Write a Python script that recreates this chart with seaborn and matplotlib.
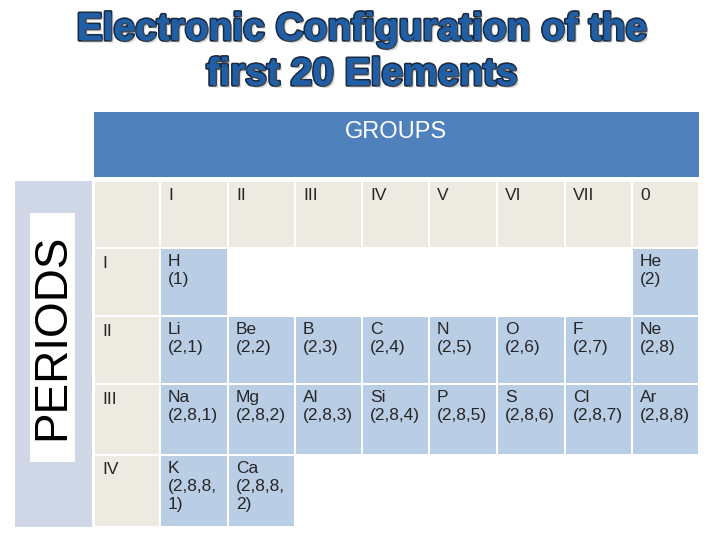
import matplotlib
matplotlib.use("Agg")
import matplotlib.pyplot as plt
import matplotlib.patheffects as pe
from matplotlib.patches import Rectangle
import seaborn as sns

sns.set_style("white")
plt.rcParams["font.family"] = ["Liberation Sans", "DejaVu Sans"]

TITLE = ["Electronic Configuration of the", "first 20 Elements"]
GROUPS = ["I", "II", "III", "IV", "V", "VI", "VII", "0"]
PERIODS = ["I", "II", "III", "IV"]
# (period index, group index, symbol, configuration)
ELEMENTS = [
    (0, 0, "H", "(1)"), (0, 7, "He", "(2)"),
    (1, 0, "Li", "(2,1)"), (1, 1, "Be", "(2,2)"), (1, 2, "B", "(2,3)"), (1, 3, "C", "(2,4)"),
    (1, 4, "N", "(2,5)"), (1, 5, "O", "(2,6)"), (1, 6, "F", "(2,7)"), (1, 7, "Ne", "(2,8)"),
    (2, 0, "Na", "(2,8,1)"), (2, 1, "Mg", "(2,8,2)"), (2, 2, "Al", "(2,8,3)"), (2, 3, "Si", "(2,8,4)"),
    (2, 4, "P", "(2,8,5)"), (2, 5, "S", "(2,8,6)"), (2, 6, "Cl", "(2,8,7)"), (2, 7, "Ar", "(2,8,8)"),
    (3, 0, "K", "(2,8,8,\n1)"), (3, 1, "Ca", "(2,8,8,\n2)"),
]

BLUE = "#4F81BD"
BEIGE = "#EDEAE2"
LIGHT = "#B9CDE5"
PANEL = "#D0D8E8"

col_edges = [94, 160, 228, 295, 362, 429, 497, 565, 632, 699]
row_edges = [181, 248, 316, 384, 455, 527]

fig = plt.figure(figsize=(7.2, 5.4), dpi=100)
ax = fig.add_axes([0, 0, 1, 1])
ax.set_xlim(0, 720)
ax.set_ylim(540, 0)
ax.axis("off")

def cell(x0, y0, x1, y1, color):
    ax.add_patch(Rectangle((x0 + 1, y0 + 1), x1 - x0 - 2, y1 - y0 - 2, fc=color, ec="none"))

# title
for i, line in enumerate(TITLE):
    ax.text(362, 30 + 45 * i, line, ha="center", va="center", fontsize=28, weight="bold",
            color="#1F5FA8",
            path_effects=[pe.withStroke(linewidth=2.5, foreground="#1a2a40"),
                          pe.SimplePatchShadow(offset=(2, -2), shadow_rgbFace="#888888"),
                          pe.Normal()])

# groups banner
ax.add_patch(Rectangle((94, 112), 605, 65, fc=BLUE, ec="none"))
ax.text(396, 132, "GROUPS", ha="center", va="center", color="white", fontsize=17)

# periods panel
ax.add_patch(Rectangle((15, 181), 77, 346, fc=PANEL, ec="none"))
ax.add_patch(Rectangle((30, 213), 45, 249, fc="white", ec="none"))
ax.text(52, 337, "PERIODS", rotation=90, ha="center", va="center", fontsize=33, color="black")

# header row
cell(col_edges[0], row_edges[0], col_edges[1], row_edges[1], BEIGE)
for j, g in enumerate(GROUPS):
    cell(col_edges[j + 1], row_edges[0], col_edges[j + 2], row_edges[1], BEIGE)
    ax.text(col_edges[j + 1] + 8, row_edges[0] + 15, g, ha="left", va="center", fontsize=12.5)

# period column
for i, p in enumerate(PERIODS):
    cell(col_edges[0], row_edges[i + 1], col_edges[1], row_edges[i + 2], BEIGE)
    ax.text(col_edges[0] + 8, row_edges[i + 1] + 15, p, ha="left", va="center", fontsize=12.5)

# element cells
for r, c, sym, conf in ELEMENTS:
    x0, x1 = col_edges[c + 1], col_edges[c + 2]
    y0, y1 = row_edges[r + 1], row_edges[r + 2]
    cell(x0, y0, x1, y1, LIGHT)
    ax.text(x0 + 8, y0 + 6, sym + "\n" + conf, ha="left", va="top", fontsize=12.5,
            linespacing=1.25)

fig.savefig("out.png", dpi=100, facecolor="white")
